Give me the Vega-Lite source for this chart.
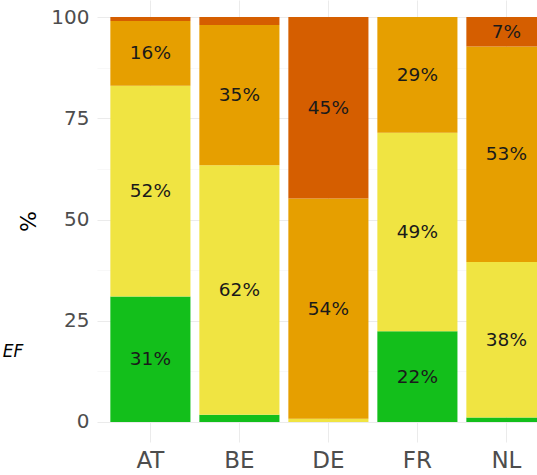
{
  "$schema": "https://vega.github.io/schema/vega-lite/v6.json",
  "width": 440,
  "height": 442,
  "autosize": {"type": "none"},
  "padding": {"left": 97, "top": 0, "right": 0, "bottom": 33},
  "background": "white",
  "config": {"view": {"stroke": null}, "font": "DejaVu Sans"},
  "title": {"text": "EF", "orient": "left", "angle": 0, "anchor": "start", "align": "right", "baseline": "middle", "fontStyle": "italic", "fontWeight": "normal", "fontSize": 17, "color": "#000000", "offset": -3, "dy": -120, "dx": 23, "font": "DejaVu Sans"},
  "data": {
    "values": [
      {"c": "AT", "g": "g1", "k": 1, "v": 31.0},
      {"c": "AT", "g": "g2", "k": 2, "v": 52.0},
      {"c": "AT", "g": "g3", "k": 3, "v": 16.0},
      {"c": "AT", "g": "g4", "k": 4, "v": 1.0},
      {"c": "BE", "g": "g1", "k": 1, "v": 1.8},
      {"c": "BE", "g": "g2", "k": 2, "v": 61.6},
      {"c": "BE", "g": "g3", "k": 3, "v": 34.6},
      {"c": "BE", "g": "g4", "k": 4, "v": 2.0},
      {"c": "DE", "g": "g2", "k": 2, "v": 0.8},
      {"c": "DE", "g": "g3", "k": 3, "v": 54.4},
      {"c": "DE", "g": "g4", "k": 4, "v": 44.8},
      {"c": "FR", "g": "g1", "k": 1, "v": 22.4},
      {"c": "FR", "g": "g2", "k": 2, "v": 49.0},
      {"c": "FR", "g": "g3", "k": 3, "v": 28.6},
      {"c": "NL", "g": "g1", "k": 1, "v": 1.1},
      {"c": "NL", "g": "g2", "k": 2, "v": 38.4},
      {"c": "NL", "g": "g3", "k": 3, "v": 53.2},
      {"c": "NL", "g": "g4", "k": 4, "v": 7.3}
    ]
  },
  "layer": [
    {
      "mark": {"type": "bar", "clip": true},
      "encoding": {
        "x": {
          "field": "c", "type": "nominal", "sort": ["AT", "BE", "DE", "FR", "NL"],
          "scale": {"range": [0, 462.8], "paddingInner": 0.1, "paddingOuter": 0.15},
          "axis": {"title": null, "labelAngle": 0, "ticks": false, "domain": false, "grid": true, "gridColor": "#ebebeb", "gridWidth": 1, "bandPosition": 0.5, "labelFontSize": 23, "labelColor": "#4d4d4d", "labelPadding": 7, "labelFont": "DejaVu Sans"}
        },
        "y": {
          "field": "v", "type": "quantitative", "stack": "zero",
          "scale": {"domain": [-4.94, 104.2], "nice": false, "zero": false},
          "axis": {
            "title": "%", "titleFontSize": 22, "titleFontWeight": "normal", "titleColor": "#000000", "titlePadding": 10, "titleFont": "DejaVu Sans",
            "values": [0, 12.5, 25, 37.5, 50, 62.5, 75, 87.5, 100],
            "labelExpr": "datum.value % 25 == 0 ? datum.label : ''",
            "ticks": false, "domain": false, "labelPadding": 8, "labelFontSize": 20, "labelColor": "#4d4d4d", "labelFont": "DejaVu Sans",
            "grid": true,
            "gridColor": {"condition": {"test": "datum.value % 25 != 0", "value": "#f3f3f3"}, "value": "#ebebeb"},
            "gridWidth": {"condition": {"test": "datum.value % 25 != 0", "value": 0.6}, "value": 1}
          }
        },
        "color": {
          "field": "g", "type": "nominal",
          "scale": {"domain": ["g1", "g2", "g3", "g4"], "range": ["#13bf1b", "#f0e442", "#e69f00", "#d55e00"]},
          "legend": null
        },
        "order": {"field": "k", "type": "quantitative"}
      }
    },
    {
      "transform": [
        {"window": [{"op": "sum", "field": "v", "as": "cum"}], "groupby": ["c"], "sort": [{"field": "k", "order": "ascending"}], "frame": [null, 0]},
        {"calculate": "datum.cum - datum.v / 2", "as": "mid"},
        {"filter": "datum.v >= 5"},
        {"calculate": "format(datum.v, '.0f') + '%'", "as": "lab"}
      ],
      "mark": {"type": "text", "fontSize": 18.5, "color": "#1a1a1a", "baseline": "middle", "align": "center", "font": "DejaVu Sans"},
      "encoding": {
        "x": {"field": "c", "type": "nominal", "sort": ["AT", "BE", "DE", "FR", "NL"]},
        "y": {"field": "mid", "type": "quantitative"},
        "text": {"field": "lab"}
      }
    }
  ]
}
